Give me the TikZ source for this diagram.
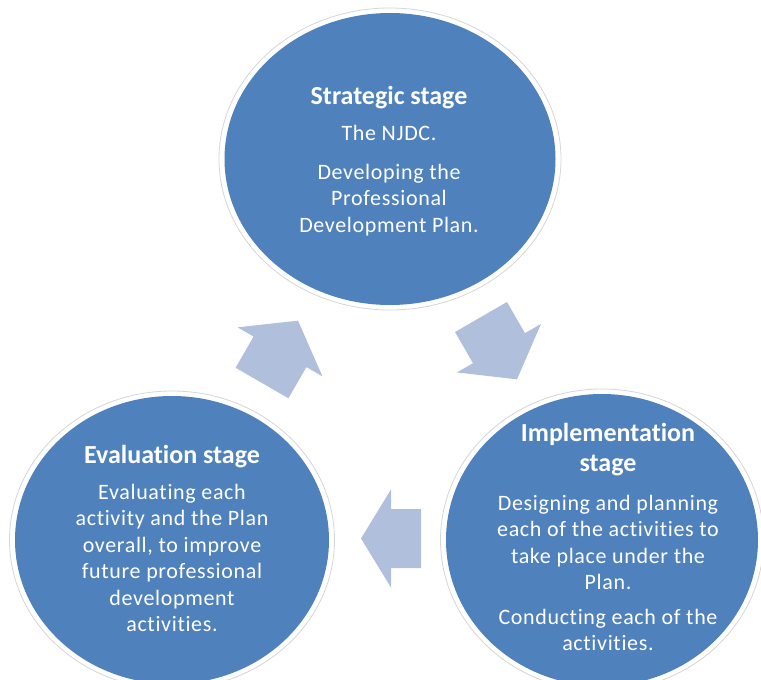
\documentclass[tikz,border=0pt]{standalone}
\usepackage{fontspec}
\setmainfont{Carlito}[Ligatures=NoCommon]
\newfontfamily\bodyfont{Carlito}[Ligatures=NoCommon, LetterSpace=3]
\usetikzlibrary{shapes.geometric}
\definecolor{stageblue}{HTML}{4F81BD}
\definecolor{arrowblue}{HTML}{B0C0DC}
\definecolor{rimgray}{HTML}{D6D6D6}
\newcommand\cyclearrow[7]{%
  \begin{scope}[shift={(#1,#2)}, rotate=#3]
    \fill[cyc] (0,-#7/2) -- (#4-#5,-#7/2) -- (#4-#5,-#6/2) -- (#4,0)
      -- (#4-#5,#6/2) -- (#4-#5,#7/2) -- (0,#7/2) -- cycle;
  \end{scope}}
\begin{document}
\begin{tikzpicture}[x=1pt,y=-1pt,
  stage/.style={ellipse, fill=stageblue, draw=none, inner sep=0pt, outer sep=0pt},
  rim/.style={ellipse, draw=rimgray, line width=0.8pt, inner sep=0pt, outer sep=0pt},
  title/.style={text=white, font=\fontsize{26}{30}\selectfont\bfseries, align=center, inner sep=0pt},
  body/.style={text=white, font=\bodyfont\fontsize{22}{26.5}\selectfont, align=center, inner sep=0pt},
  cyc/.style={fill=arrowblue}]
\useasboundingbox (0,0) rectangle (761,680);
\clip (0,0) rectangle (761,680);
\fill[white] (0,0) rectangle (761,680);
% stages
\node[rim, minimum width=342, minimum height=302] (topRim) at (390,159) {};
\node[stage, minimum width=331, minimum height=292] (top) at (390,159) {};
\node[rim, minimum width=325, minimum height=298] (evalRim) at (172,540) {};
\node[stage, minimum width=314, minimum height=288] (eval) at (172,540) {};
\node[rim, minimum width=323, minimum height=302] (implRim) at (602,540) {};
\node[stage, minimum width=312, minimum height=292] (impl) at (602,540) {};
% cycle arrows
\cyclearrow{262}{383}{60}{72}{36}{98}{61}
\cyclearrow{481}{317}{-60}{72}{36}{97}{60}
\cyclearrow{421}{538.5}{180}{60}{30}{98}{59}
% texts
\node[title] (topTitle) at (389,97.5) {Strategic stage};
\node[body] (topBody) at (389,180.5) {The NJDC.\\[12pt]Developing the\\Professional\\Development Plan.};
\node[title] (implTitle) at (608,450) {Implementation\\stage};
\node[body] (implBody) at (608,573) {Designing and planning\\each of the activities to\\take place under the\\Plan.\\[8pt]Conducting each of the\\activities.};
\node[title] (evalTitle) at (172,457) {Evaluation stage};
\node[body] (evalBody) at (172,558) {Evaluating each\\activity and the Plan\\overall, to improve\\future professional\\development\\activities.};
\end{tikzpicture}
\end{document}
